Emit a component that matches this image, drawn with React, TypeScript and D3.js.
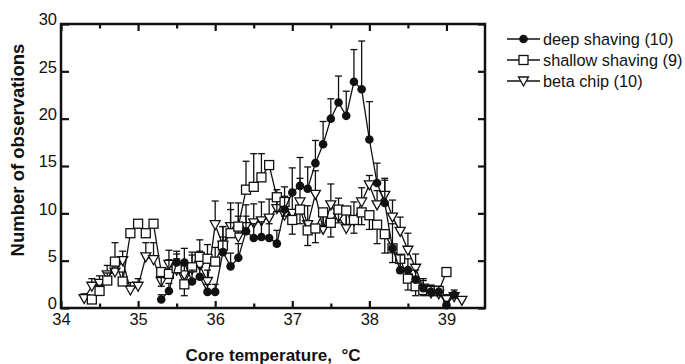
import React, { useRef, useEffect } from "react";
import * as d3 from "d3";

// deep shaving (filled circles)
const deepTemps = [35.3, 35.4, 35.5, 35.6, 35.7, 35.8, 35.9, 36.0, 36.1, 36.2, 36.3, 36.4, 36.5, 36.6, 36.7, 36.8, 36.9,
    37.0, 37.1, 37.2, 37.3, 37.4, 37.5, 37.6, 37.7, 37.8, 37.9, 38.0, 38.1, 38.2, 38.3, 38.4, 38.5, 38.6, 38.7, 38.8, 38.9, 39.0, 39.1];
const deepValues = [0.9, 1.8, 4.8, 4.8, 2.8, 3.3, 1.7, 1.7, 5.9, 4.4, 5.3, 8.1, 7.4, 7.5, 7.4, 6.8, 10.4,
    12.2, 12.9, 12.6, 15.3, 17.3, 20.0, 21.7, 20.3, 23.9, 23.1, 17.8, 13.2, 11.1, 6.3, 4.0, 4.0, 3.0, 2.1, 1.7, 1.7, 0.3, 1.4];
const deepErrors = [0.5, 0.8, 1.2, 1.5, 1.2, 1.0, 0.8, 0.8, 1.6, 1.4, 1.5, 1.6, 1.5, 1.6, 1.5, 1.4, 2.4,
    2.6, 3.0, 2.3, 2.4, 2.4, 2.1, 2.8, 2.6, 3.4, 5.1, 4.0, 2.1, 2.4, 2.6, 1.6, 1.2, 1.0, 0.8, 0.7, 0.6, 0.4, 0.5];

// shallow shaving (open squares), negative error = bar drawn downward
const shallowTemps = [34.4, 34.5, 34.6, 34.7, 34.8, 34.9, 35.0, 35.1, 35.2, 35.3, 35.4, 35.5, 35.6, 35.7, 35.8, 35.9,
    36.0, 36.1, 36.2, 36.3, 36.4, 36.5, 36.6, 36.7, 36.8, 36.9, 37.0, 37.1, 37.2, 37.3, 37.4, 37.5, 37.6, 37.7, 37.8, 37.9,
    38.0, 38.1, 38.2, 38.3, 38.4, 38.5, 38.6, 38.7, 38.8, 38.9, 39.0];
const shallowValues = [0.9, 1.8, 2.9, 4.9, 2.8, 7.9, 8.9, 7.9, 8.9, 3.8, 3.6, 4.2, 2.5, 4.3, 5.4, 5.2,
    4.9, 6.6, 7.9, 8.6, 12.5, 12.8, 13.8, 15.1, 11.7, 11.2, 9.3, 10.4, 8.2, 8.4, 10.1, 9.0, 10.4, 10.3, 9.3, 10.1,
    9.8, 8.8, 7.8, 6.3, 5.2, 3.1, 2.3, 1.9, 1.8, 1.8, 3.8];
const shallowErrors = [0, 0.6, 0.8, 2.0, 1.0, 0, 0, 0, 0, -1.5, 1.5, 1.5, -1.2, 1.6, 1.8, 1.5,
    1.5, 2.0, 2.5, 2.5, 3.0, 3.5, 2.5, 0, -1.5, -1.5, -1.5, -1.5, -1.6, -1.5, -1.5, -1.5, -1.4, -1.5, -1.4, -1.3,
    -1.5, -2.0, -2.0, -1.5, -1.5, -1.2, -1.0, -0.6, -0.5, -0.5, 0];

// beta chip (open down triangles)
const betaTemps = [34.3, 34.4, 34.5, 34.6, 34.7, 34.8, 34.9, 35.0, 35.1, 35.2, 35.3, 35.4, 35.5, 35.6, 35.7, 35.8, 35.9,
    36.0, 36.1, 36.2, 36.3, 36.4, 36.5, 36.6, 36.7, 36.8, 36.9, 37.0, 37.1, 37.2, 37.3, 37.4, 37.5, 37.6, 37.7, 37.8, 37.9,
    38.0, 38.1, 38.2, 38.3, 38.4, 38.5, 38.6, 38.7, 38.8, 38.9, 39.0, 39.1, 39.2];
const betaValues = [1.0, 2.3, 2.6, 3.5, 3.8, 5.0, 1.9, 2.3, 5.4, 5.1, 2.8, 4.6, 4.0, 3.5, 4.1, 4.5, 2.8,
    8.8, 6.6, 8.6, 7.5, 8.6, 9.0, 9.2, 9.5, 10.5, 9.8, 10.0, 11.2, 8.8, 12.0, 8.3, 10.9, 9.6, 8.4, 9.2, 11.2,
    13.0, 10.9, 11.9, 9.6, 8.1, 6.1, 4.2, 2.1, 1.6, 1.5, 0.9, 1.2, 0.8];
const betaErrors = [0.5, 0.8, 0.8, 1.0, 1.2, 1.0, 0.8, 0.8, 1.5, 1.8, 1.0, 1.5, 1.2, 1.5, 1.5, 1.5, 1.2,
    2.5, 2.0, 2.5, 2.2, 2.3, 2.0, 2.0, 2.0, 2.0, 2.0, 2.0, 2.5, 2.0, 2.5, 2.0, 2.2, 2.0, 2.0, 2.0, 1.5,
    1.0, 1.5, 1.8, 1.8, 1.5, 1.8, 1.5, 1.0, 0.8, 0.6, 0.5, 0.4, 0.4];

const xMajorTicks = [34, 35, 36, 37, 38, 39];
const xMinorTicks = [34.5, 35.5, 36.5, 37.5, 38.5];
const yTicks = [0, 5, 10, 15, 20, 25, 30];
const legendLabels = ["deep shaving (10)", "shallow shaving (9)", "beta chip (10)"];

const FONT = "'Liberation Sans', Arial, Helvetica, sans-serif";

const App = () => {
    const svgRef = useRef(null);

    useEffect(() => {
        const svg = d3.select(svgRef.current);
        svg.selectAll("*").remove();

        const x = d3.scaleLinear().domain([34, 39.5]).range([61, 485]);
        const y = d3.scaleLinear().domain([0, 30]).range([308, 24]);

        svg.append("rect").attr("width", 685).attr("height", 364).attr("fill", "white");

        const styleAxis = (g, fontSize) => {
            g.select(".domain").remove();
            g.selectAll("line").attr("stroke", "#111").attr("stroke-width", 2.2);
            g.selectAll("text").attr("font-family", FONT).attr("font-size", fontSize).attr("fill", "#111");
        };

        // axes (ticks point inward)
        svg.append("g").attr("transform", "translate(0,308)")
            .call(d3.axisBottom(x).tickValues(xMajorTicks).tickSize(-7).tickPadding(5).tickFormat(d3.format("d")))
            .call(g => styleAxis(g, 16.5));
        svg.append("g").attr("transform", "translate(0,308)")
            .call(d3.axisBottom(x).tickValues(xMinorTicks).tickSize(-4.5).tickFormat(() => ""))
            .call(g => styleAxis(g, 16));
        svg.append("g").attr("transform", "translate(0,24)")
            .call(d3.axisTop(x).tickValues(xMajorTicks).tickSize(-7).tickFormat(() => ""))
            .call(g => styleAxis(g, 16));
        svg.append("g").attr("transform", "translate(0,24)")
            .call(d3.axisTop(x).tickValues(xMinorTicks).tickSize(-4.5).tickFormat(() => ""))
            .call(g => styleAxis(g, 16));
        svg.append("g").attr("transform", "translate(61,0)")
            .call(d3.axisLeft(y).tickValues(yTicks).tickSize(-8).tickPadding(4).tickFormat(d3.format("d")))
            .call(g => styleAxis(g, 16.5))
            .call(g => g.selectAll("text").attr("dy", "0.05em"));
        svg.append("g").attr("transform", "translate(485,0)")
            .call(d3.axisRight(y).tickValues(yTicks).tickSize(-7).tickFormat(() => ""))
            .call(g => styleAxis(g, 16));

        svg.append("rect")
            .attr("x", x(34)).attr("y", y(30))
            .attr("width", x(39.5) - x(34)).attr("height", y(0) - y(30))
            .attr("fill", "none").attr("stroke", "#111").attr("stroke-width", 2.5);

        const series = [
            { key: "beta", temps: betaTemps, values: betaValues, errors: betaErrors, marker: "triangle" },
            { key: "shallow", temps: shallowTemps, values: shallowValues, errors: shallowErrors, marker: "square" },
            { key: "deep", temps: deepTemps, values: deepValues, errors: deepErrors, marker: "circle" },
        ];

        const drawMarker = (g, type) => {
            if (type === "circle") {
                g.append("circle").attr("r", 4.3).attr("fill", "#111");
            } else if (type === "square") {
                g.append("rect").attr("x", -4.5).attr("y", -4.5).attr("width", 9).attr("height", 9)
                    .attr("fill", "white").attr("stroke", "#111").attr("stroke-width", 1.3);
            } else {
                g.append("path").attr("d", "M-5,-4L5,-4L0,5Z")
                    .attr("fill", "white").attr("stroke", "#111").attr("stroke-width", 1.3);
            }
        };

        const line = d3.line().x(d => x(d.t)).y(d => y(d.v));
        const plot = svg.append("g");

        series.forEach(s => {
            const pts = s.temps.map((t, i) => ({ t, v: s.values[i], e: s.errors[i] }));
            const sg = plot.append("g").attr("class", s.key);

            // error bars
            pts.filter(p => p.e !== 0).forEach(p => {
                const top = y(p.v + p.e);
                sg.append("line").attr("x1", x(p.t)).attr("x2", x(p.t)).attr("y1", y(p.v)).attr("y2", top)
                    .attr("stroke", "#111").attr("stroke-width", 1.3);
                sg.append("line").attr("x1", x(p.t) - 3.5).attr("x2", x(p.t) + 3.5).attr("y1", top).attr("y2", top)
                    .attr("stroke", "#111").attr("stroke-width", 1.3);
            });

            sg.append("path").datum(pts).attr("d", line)
                .attr("fill", "none").attr("stroke", "#111").attr("stroke-width", 1.3);

            pts.forEach(p => {
                const mg = sg.append("g").attr("transform", `translate(${x(p.t)},${y(p.v)})`);
                drawMarker(mg, s.marker);
            });
        });

        // legend
        const legend = svg.append("g");
        ["circle", "square", "triangle"].forEach((m, i) => {
            const ly = 39 + i * 21;
            legend.append("line").attr("x1", 507).attr("x2", 540).attr("y1", ly).attr("y2", ly)
                .attr("stroke", "#111").attr("stroke-width", 1.3);
            const mg = legend.append("g").attr("transform", `translate(523.5,${ly})`);
            drawMarker(mg, m);
            legend.append("text").attr("x", 543).attr("y", ly).attr("dy", "0.36em")
                .attr("font-family", FONT).attr("font-size", 16.3).attr("fill", "#111")
                .text(legendLabels[i]);
        });

        // axis titles
        svg.append("text")
            .attr("x", 273).attr("y", 361)
            .attr("text-anchor", "middle")
            .attr("font-family", FONT).attr("font-size", 17).attr("font-weight", "bold").attr("fill", "#111")
            .style("white-space", "pre")
            .text("Core temperature,  \u00B0C");
        svg.append("text")
            .attr("transform", "translate(24,150) rotate(-90)")
            .attr("text-anchor", "middle")
            .attr("font-family", FONT).attr("font-size", 18.5).attr("font-weight", "bold").attr("fill", "#111")
            .text("Number of observations");
    }, []);

    return (
        <svg ref={svgRef} width={685} height={364}
            style={{ position: "absolute", left: 0, top: 0, display: "block" }} />
    );
};

export default App;
